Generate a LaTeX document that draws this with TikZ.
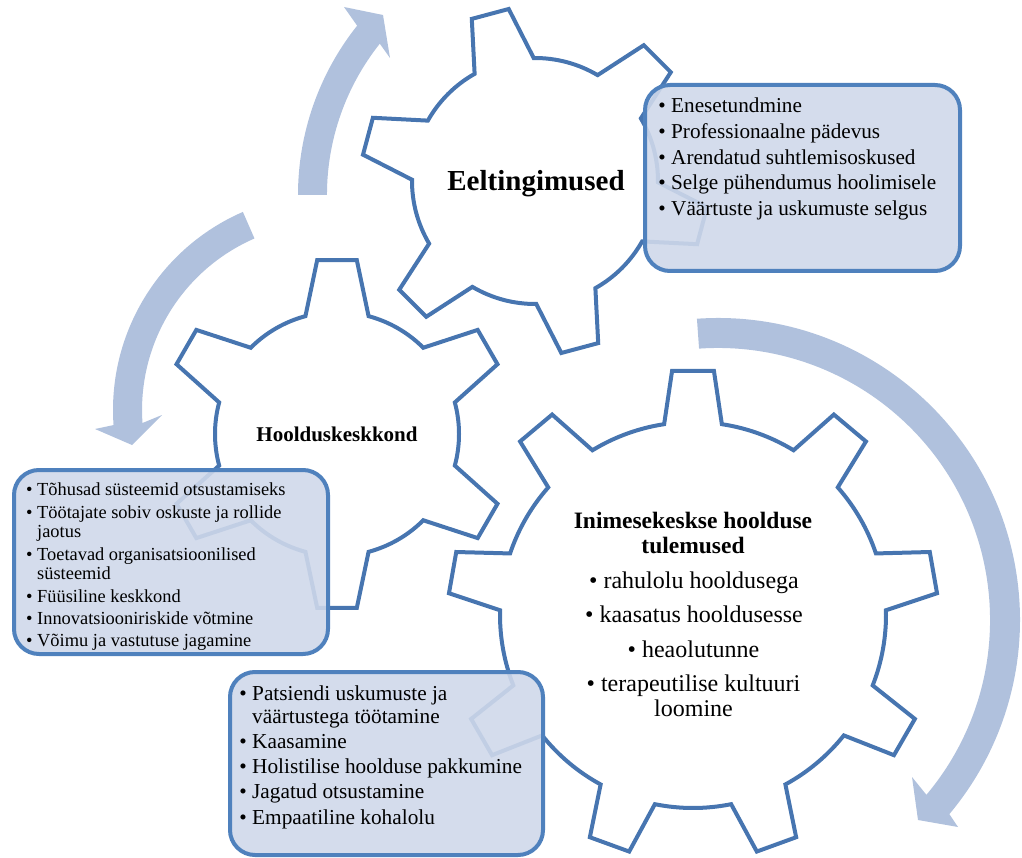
\documentclass[tikz,border=0pt]{standalone}
\usepackage{fontspec}
\setmainfont{Liberation Serif}
\definecolor{gearblue}{RGB}{71,117,176}
\definecolor{boxblue}{RGB}{79,129,189}
\definecolor{boxfill}{RGB}{207,216,234}
\definecolor{arrowfill}{RGB}{176,193,221}
\newcommand{\mybul}{\llap{•\hspace{0.25em}}}
\tikzset{
  gearline/.style={draw=gearblue, line width=4pt},
  infobox/.style={draw=boxblue, line width=4pt, fill=boxfill, fill opacity=0.9, rounded corners=25pt},
  arrowband/.style={fill=arrowfill},
  atxt/.style={anchor=base west, inner sep=0pt, font=\fontsize{21.2}{25}\selectfont},
  btxt/.style={anchor=base west, inner sep=0pt, font=\fontsize{18.4}{20}\selectfont},
  ctxt/.style={anchor=base west, inner sep=0pt, font=\fontsize{21.3}{25}\selectfont},
  gtitle/.style={anchor=base, inner sep=0pt, font=\fontsize{23.5}{25}\selectfont\bfseries},
  gitem/.style={anchor=base, inner sep=0pt, font=\fontsize{24}{25}\selectfont},
}
\begin{document}
\begin{tikzpicture}[x=1pt,y=1pt]
\path[use as bounding box] (0,0) rectangle (1022,-858);
\clip (0,0) rectangle (1022,-858);

% curved arrows
\fill[arrowband] (718,-620) ++(94:302) arc[start angle=94,end angle=-40,radius=302]
  -- (958,-827) -- (918,-820) -- (912,-777) -- (926.4,-794.8)
  arc[start angle=-40,end angle=94,radius=272] -- cycle;
\fill[arrowband] (329,-410) ++(113.5:216) arc[start angle=113.5,end angle=184,radius=216]
  -- (95,-429) -- (132,-445) -- (162,-415) -- (142.5,-423)
  arc[start angle=184,end angle=113.5,radius=187] -- cycle;
\fill[arrowband] (570,-195) ++(180:272) arc[start angle=180,end angle=141.5,radius=272]
  -- (344,-7) -- (383,-15) -- (390,-58) -- (379.8,-43.7)
  arc[start angle=141.5,end angle=180,radius=243] -- cycle;

% gears
\draw[gearline, shift={(693,-615)}] ({90-8.6}:193)
  \foreach \k in {0,...,8} { -- ({90+40*\k-4.9}:245) -- ({90+40*\k+4.9}:245) -- ({90+40*\k+8.6}:193)
  arc[start angle={90+40*\k+8.6}, end angle={90+40*\k+40-8.6}, radius=193] } -- cycle;
\draw[gearline, shift={(535,-181)}] ({45-14.4}:123)
  \foreach \k in {0,...,5} { -- ({45+60*\k-6.3}:174) -- ({45+60*\k+6.3}:174) -- ({45+60*\k+14.4}:123)
  arc[start angle={45+60*\k+14.4}, end angle={45+60*\k+60-14.4}, radius=123] } -- cycle;
\draw[gearline, shift={(337,-434)}] ({90-15}:122)
  \foreach \k in {0,...,5} { -- ({90+60*\k-6.5}:175) -- ({90+60*\k+6.5}:175) -- ({90+60*\k+15}:122)
  arc[start angle={90+60*\k+15}, end angle={90+60*\k+60-15}, radius=122] } -- cycle;

% gear texts
\node[anchor=base, inner sep=0pt, font=\fontsize{29}{30}\selectfont\bfseries] (g2t) at (536,-191) {Eeltingimused};
\node[anchor=base, inner sep=0pt, font=\fontsize{21}{22}\selectfont\bfseries] (g3t) at (337,-441) {Hoolduskeskkond};
\node[gtitle] (g1t1) at (693,-528) {Inimesekeskse hoolduse};
\node[gtitle] (g1t2) at (693,-553) {tulemused};
\node[gitem] (g1i1) at (694,-588) {• rahulolu hooldusega};
\node[gitem] (g1i2) at (694,-622) {• kaasatus hooldusesse};
\node[gitem] (g1i3) at (693.5,-657) {• heaolutunne};
\node[gitem] (g1i4) at (693.5,-691) {• terapeutilise kultuuri};
\node[gitem] (g1i4b) at (693.5,-716) {loomine};

% boxes
\draw[infobox] (645,-85) rectangle (960,-271);
\draw[infobox] (14,-470) rectangle (328,-654);
\draw[infobox] (230,-672) rectangle (543,-855);

\node[atxt] (a1) at (671,-113) {\mybul Enesetundmine};
\node[atxt] (a2) at (671,-139) {\mybul Professionaalne pädevus};
\node[atxt] (a3) at (671,-164.5) {\mybul Arendatud suhtlemisoskused};
\node[atxt] (a4) at (671,-190) {\mybul Selge pühendumus hoolimisele};
\node[atxt] (a5) at (671,-215.5) {\mybul Väärtuste ja uskumuste selgus};

\node[btxt] (b1) at (37,-495) {\mybul Tõhusad süsteemid otsustamiseks};
\node[btxt] (b2) at (37,-518) {\mybul Töötajate sobiv oskuste ja rollide};
\node[btxt] (b2b) at (37,-537) {jaotus};
\node[btxt] (b3) at (37,-560) {\mybul Toetavad organisatsioonilised};
\node[btxt] (b3b) at (37,-579) {süsteemid};
\node[btxt] (b4) at (37,-602) {\mybul Füüsiline keskkond};
\node[btxt] (b5) at (37,-624) {\mybul Innovatsiooniriskide võtmine};
\node[btxt] (b6) at (37,-646) {\mybul Võimu ja vastutuse jagamine};

\node[ctxt] (c1) at (252,-700) {\mybul Patsiendi uskumuste ja};
\node[ctxt] (c1b) at (252,-723) {väärtustega töötamine};
\node[ctxt] (c2) at (252,-748) {\mybul Kaasamine};
\node[ctxt] (c3) at (252,-773) {\mybul Holistilise hoolduse pakkumine};
\node[ctxt] (c4) at (252,-798) {\mybul Jagatud otsustamine};
\node[ctxt] (c5) at (252,-824) {\mybul Empaatiline kohalolu};
\end{tikzpicture}
\end{document}
